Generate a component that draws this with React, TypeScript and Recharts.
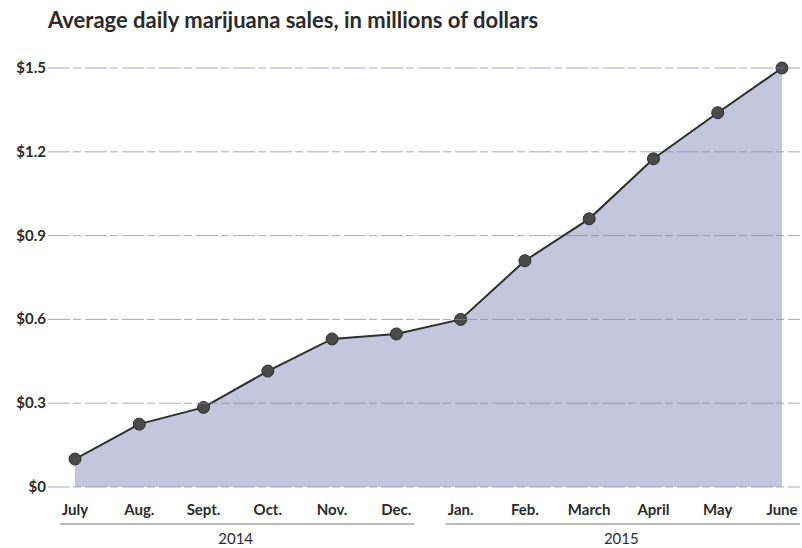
import React from 'react';
import { AreaChart, Area, XAxis, YAxis, usePlotArea } from 'recharts';

const months = ['July', 'Aug.', 'Sept.', 'Oct.', 'Nov.', 'Dec.', 'Jan.', 'Feb.', 'March', 'April', 'May', 'June'];
const years = ['2014', '2014', '2014', '2014', '2014', '2014', '2015', '2015', '2015', '2015', '2015', '2015'];
const sales = [0.1, 0.225, 0.285, 0.415, 0.53, 0.548, 0.6, 0.81, 0.96, 1.175, 1.34, 1.5];
const yTicks = [0, 0.3, 0.6, 0.9, 1.2, 1.5];

const data = months.map((m, i) => ({ month: m, year: years[i], sales: sales[i] }));

const FONT = 'Lato, "Open Sans", sans-serif';
const INK = '#2b2b2b';

const YTick = (props: any) => {
    const plot = usePlotArea();
    const { y, payload } = props;
    const left = plot ? plot.x - 27 : 48;
    const right = plot ? plot.x + plot.width + 18 : 800;
    const label = payload.value === 0 ? '$0' : `$${payload.value.toFixed(1)}`;
    return (
        <g>
            <line x1={left} x2={right} y1={y} y2={y} stroke="#8088b0" strokeWidth={1} strokeDasharray="22 3 8 4" opacity={0.7} />
            <text x={left - 2} y={y} dy={5} textAnchor="end" fill={INK} fontSize={15} fontWeight={700} fontFamily={FONT}>
                {label}
            </text>
        </g>
    );
};

const MonthTick = (props: any) => {
    const plot = usePlotArea();
    const { x, y, payload } = props;
    const i = payload.index;
    const step = plot ? plot.width / (months.length - 1) : 64;
    const first = i === 0 || years[i] !== years[i - 1];
    let group = null;
    if (first) {
        let n = 0;
        while (i + n < years.length && years[i + n] === years[i]) n++;
        const x1 = x - 15;
        const x2 = x + (n - 1) * step + 18;
        group = (
            <g>
                <line x1={x1} x2={x2} y1={y + 29} y2={y + 29} stroke="#777" strokeWidth={1} />
                <text x={x + ((n - 1) * step) / 2} y={y + 49} textAnchor="middle" fill={INK} fontSize={15} fontFamily={FONT}>
                    {years[i]}
                </text>
            </g>
        );
    }
    return (
        <g>
            <text x={x} y={y} dy={20} textAnchor="middle" fill={INK} fontSize={15} fontWeight={700} fontFamily={FONT}>
                {payload.value}
            </text>
            {group}
        </g>
    );
};

export default function App() {
    return (
        <div style={{ position: 'absolute', left: 0, top: 0, width: 802, height: 548, background: '#fff' }}>
            <div style={{ position: 'absolute', left: 48, top: 6, fontFamily: FONT, fontWeight: 700, fontSize: 22, color: INK }}>
                Average daily marijuana sales, in millions of dollars
            </div>
            <AreaChart width={802} height={548} data={data} margin={{ top: 68, right: 20, bottom: 0, left: 0 }}>
                <XAxis
                    dataKey="month"
                    axisLine={false}
                    tickLine={false}
                    height={61}
                    interval={0}
                    padding={{ left: 0, right: 0 }}
                    tick={<MonthTick />}
                />
                <YAxis
                    domain={[0, 1.5]}
                    ticks={yTicks}
                    axisLine={false}
                    tickLine={false}
                    width={75}
                    tick={<YTick />}
                />
                <Area
                    type="linear"
                    dataKey="sales"
                    stroke="#2e2e2e"
                    strokeWidth={2}
                    fill="#c3c6dc"
                    fillOpacity={1}
                    dot={{ r: 6, fill: '#4a4a4a', stroke: '#2e2e2e', strokeWidth: 1, fillOpacity: 1 }}
                    isAnimationActive={false}
                />
            </AreaChart>
        </div>
    );
}
